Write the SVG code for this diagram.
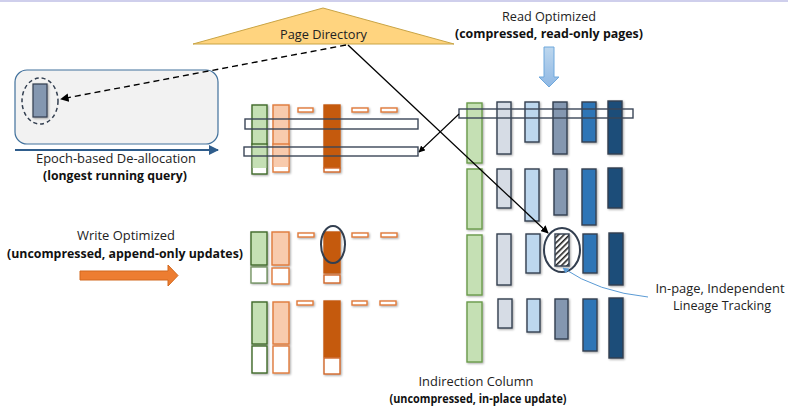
<svg xmlns="http://www.w3.org/2000/svg" width="788" height="407" viewBox="0 0 788 407">
<style>
text{font-family:"Open Sans","Noto Sans","Liberation Sans",sans-serif;font-size:12.5px;fill:#222}
.b{font-weight:bold;fill:#111}
.c{stroke:#333f50;stroke-width:1.4}
.g{fill:#c5e0b4;stroke:#6a9a4a;stroke-width:1.4}
.gr{fill:#d6dce5}
.lb{fill:#bdd7ee}
.gb{fill:#8497b0}
.bl{fill:#2e75b6}
.dk{fill:#1f4e79}
.wg{fill:#c5e0b4;stroke:#3f6a28;stroke-width:1.4}
.wgt{fill:#fff;stroke:#3f6a28;stroke-width:1.4}
.pe{fill:#f8cbad;stroke:#e07a3a;stroke-width:1.4}
.pet{fill:#fff;stroke:#e07a3a;stroke-width:1.4}
.do{fill:#c55a11;stroke:#c55a11;stroke-width:1.4}
.dot{fill:#fff;stroke:#d0672a;stroke-width:1.4}
.da{fill:#fff;stroke:#e07a3a;stroke-width:1.4}
.bar{fill:none;stroke:#3b4658;stroke-width:1.4}
</style>
<defs>
<filter id="sh" x="-30%" y="-30%" width="160%" height="160%">
<feDropShadow dx="1" dy="1" stdDeviation="1" flood-color="#000" flood-opacity="0.35"/>
</filter>
<pattern id="hatch" width="4" height="4" patternUnits="userSpaceOnUse" patternTransform="rotate(45)">
<rect width="4" height="4" fill="#fff"/>
<rect width="1.6" height="4" fill="#222"/>
</pattern>
<marker id="ah" viewBox="0 0 10 10" refX="9" refY="5" markerWidth="6" markerHeight="6" orient="auto">
<path d="M0,0 L10,5 L0,10 z" fill="#000"/>
</marker>
<marker id="ahb" viewBox="0 0 10 10" refX="9" refY="5" markerWidth="5" markerHeight="5" orient="auto">
<path d="M0,0 L10,5 L0,10 z" fill="#2f5d8c"/>
</marker>
<marker id="ahl" viewBox="0 0 10 10" refX="9" refY="5" markerWidth="6" markerHeight="6" orient="auto">
<path d="M0,0 L10,5 L0,10 z" fill="#5b9bd5"/>
</marker>
<linearGradient id="bgrad" x1="0" y1="0" x2="0" y2="1">
<stop offset="0" stop-color="#bdd7ee"/>
<stop offset="1" stop-color="#8fb8e4"/>
</linearGradient>
</defs>
<rect x="0" y="0" width="788" height="2" fill="#cfcfec"/>

<g id="page-directory">
<polygon points="193,44 323,8 454,44" fill="#ffd47f" stroke="#c9a445" stroke-width="1"/>
<text x="323.5" y="39" text-anchor="middle" textLength="87" lengthAdjust="spacingAndGlyphs">Page Directory</text>
</g>

<g id="epoch-box">
<rect x="15" y="70" width="203" height="74" rx="12" fill="#f2f2f2" stroke="#41719c" stroke-width="1.2"/>
<ellipse cx="40" cy="101" rx="18" ry="23" fill="none" stroke="#333f50" stroke-width="1.5" stroke-dasharray="4,3"/>
<rect x="33" y="84" width="14" height="33" fill="#8497b0" stroke="#333f50" stroke-width="1.2" filter="url(#sh)"/>
</g>

<g id="epoch-label">
<line x1="15" y1="150" x2="218" y2="150" stroke="#2f5d8c" stroke-width="2" marker-end="url(#ahb)"/>
<text x="116" y="163" text-anchor="middle" textLength="160" lengthAdjust="spacingAndGlyphs">Epoch-based De-allocation</text>
<text class="b" x="115" y="180" text-anchor="middle" textLength="144" lengthAdjust="spacingAndGlyphs">(longest running query)</text>
</g>

<g id="read-optimized">
<text x="549" y="21" text-anchor="middle" textLength="94" lengthAdjust="spacingAndGlyphs">Read Optimized</text>
<text class="b" x="549" y="38" text-anchor="middle" textLength="188" lengthAdjust="spacingAndGlyphs">(compressed, read-only pages)</text>
<polygon points="544,47 554,47 554,77 559,77 549,87 539,77 544,77" fill="url(#bgrad)" stroke="#6fa8dc" stroke-width="1"/>
</g>

<g id="write-optimized">
<text x="126" y="240" text-anchor="middle" textLength="98" lengthAdjust="spacingAndGlyphs">Write Optimized</text>
<text class="b" x="125" y="258" text-anchor="middle" textLength="236" lengthAdjust="spacingAndGlyphs">(uncompressed, append-only updates)</text>
<polygon points="80,271 168,271 168,265 178,275.5 168,286 168,280 80,280" fill="#ed7d31" stroke="#d2691e" stroke-width="1"/>
</g>

<g id="write-pages-1" filter="url(#sh)">
<rect class="wgt" x="252" y="144" width="15" height="30"/>
<rect x="252.7" y="144" width="13.6" height="24" fill="#c5e0b4"/>
<rect class="wg" x="252" y="105" width="15" height="39"/>
<rect class="pet" x="273" y="144" width="16" height="28"/>
<rect x="273.7" y="144" width="14.6" height="23" fill="#f8cbad"/>
<rect class="pe" x="273" y="105" width="16" height="39"/>
<rect class="do" x="324" y="105" width="16" height="63"/>
<rect class="dot" x="324" y="168" width="16" height="4"/>
<rect class="da" x="298" y="108" width="15" height="4"/>
<rect class="da" x="352" y="108" width="16" height="4"/>
<rect class="da" x="381" y="108" width="16" height="4"/>
</g>
<g id="row-bars-left">
<rect class="bar" x="245" y="119" width="173" height="10"/>
<rect class="bar" x="244" y="147" width="174" height="9"/>
</g>

<g id="write-pages-2" filter="url(#sh)">
<rect class="wg" x="251" y="232" width="16" height="33"/>
<rect class="wgt" x="251" y="267" width="16" height="16" stroke-opacity="0.7"/>
<rect class="pe" x="272" y="232" width="17" height="33"/>
<rect class="pet" x="272" y="268" width="17" height="16"/>
<rect class="do" x="324" y="232" width="16" height="41"/>
<rect class="dot" x="324" y="275" width="16" height="8"/>
<rect class="da" x="298" y="233" width="16" height="4"/>
<rect class="da" x="352" y="233" width="16" height="4"/>
<rect class="da" x="381" y="233" width="16" height="4"/>
</g>
<ellipse cx="333" cy="244.5" rx="12" ry="18.5" fill="none" stroke="#333f50" stroke-width="2"/>

<g id="write-pages-3" filter="url(#sh)">
<rect class="wg" x="252" y="302" width="15" height="42"/>
<rect class="wgt" x="252" y="346" width="15" height="27"/>
<rect class="pe" x="273" y="302" width="16" height="42"/>
<rect class="pet" x="273" y="346" width="16" height="27"/>
<rect class="do" x="324" y="301" width="16" height="56"/>
<rect class="dot" x="324" y="358" width="16" height="16"/>
<rect class="da" x="297" y="301" width="16" height="4"/>
<rect class="da" x="352" y="301" width="15" height="4"/>
<rect class="da" x="380" y="301" width="16" height="4"/>
</g>

<g id="read-columns" filter="url(#sh)">
<rect class="g" x="467" y="103" width="15" height="60"/>
<rect class="c gr" x="497" y="102" width="14" height="52"/>
<rect class="c lb" x="525" y="102" width="14" height="40"/>
<rect class="c gb" x="553" y="102" width="14" height="52"/>
<rect class="c bl" x="582" y="102" width="14" height="40"/>
<rect class="c dk" x="608" y="101" width="14" height="53"/>

<rect class="g" x="467" y="169" width="15" height="60"/>
<rect class="c gr" x="497" y="169" width="14" height="39"/>
<rect class="c lb" x="525" y="169" width="14" height="52"/>
<rect class="c gb" x="554" y="169" width="13" height="46"/>
<rect class="c bl" x="582" y="169" width="14" height="56"/>
<rect class="c dk" x="608" y="168" width="14" height="40"/>

<rect class="g" x="467" y="235" width="15" height="60"/>
<rect class="c gr" x="497" y="234" width="14" height="51"/>
<rect class="c lb" x="526" y="234" width="14" height="39"/>
<rect class="c" x="555" y="234" width="14" height="32" fill="url(#hatch)"/>
<rect class="c bl" x="583" y="234" width="14" height="39"/>
<rect class="c dk" x="609" y="233" width="14" height="52"/>

<rect class="g" x="467" y="302" width="15" height="60"/>
<rect class="c gr" x="498" y="299" width="14" height="29"/>
<rect class="c lb" x="527" y="299" width="13" height="33"/>
<rect class="c gb" x="555" y="299" width="13" height="40"/>
<rect class="c bl" x="583" y="299" width="14" height="52"/>
<rect class="c dk" x="609" y="298" width="14" height="60"/>
</g>
<g id="row-bar-right">
<rect class="bar" x="459" y="109" width="174" height="9"/>
</g>
<ellipse cx="562" cy="250" rx="18" ry="22" fill="none" stroke="#333f50" stroke-width="2"/>

<g id="lineage-label">
<text x="720" y="293" text-anchor="middle" textLength="129" lengthAdjust="spacingAndGlyphs">In-page, Independent</text>
<text x="722" y="310" text-anchor="middle" textLength="98" lengthAdjust="spacingAndGlyphs">Lineage Tracking</text>
</g>

<g id="indirection-label">
<text x="476" y="386" text-anchor="middle" textLength="115" lengthAdjust="spacingAndGlyphs">Indirection Column</text>
<text class="b" x="478" y="403" text-anchor="middle" textLength="177" lengthAdjust="spacingAndGlyphs">(uncompressed, in-place update)</text>
</g>

<g id="connectors" fill="none">
<line x1="346" y1="45" x2="61" y2="99" stroke="#000" stroke-width="1.4" stroke-dasharray="6,4" marker-end="url(#ah)"/>
<line x1="348" y1="45" x2="548" y2="233" stroke="#000" stroke-width="1.3" marker-end="url(#ah)"/>
<line x1="459" y1="114" x2="419" y2="152" stroke="#000" stroke-width="1.1" marker-end="url(#ah)"/>
<path d="M648,297 Q598,292 563,268" stroke="#5b9bd5" stroke-width="1" marker-end="url(#ahl)"/>
</g>
</svg>
